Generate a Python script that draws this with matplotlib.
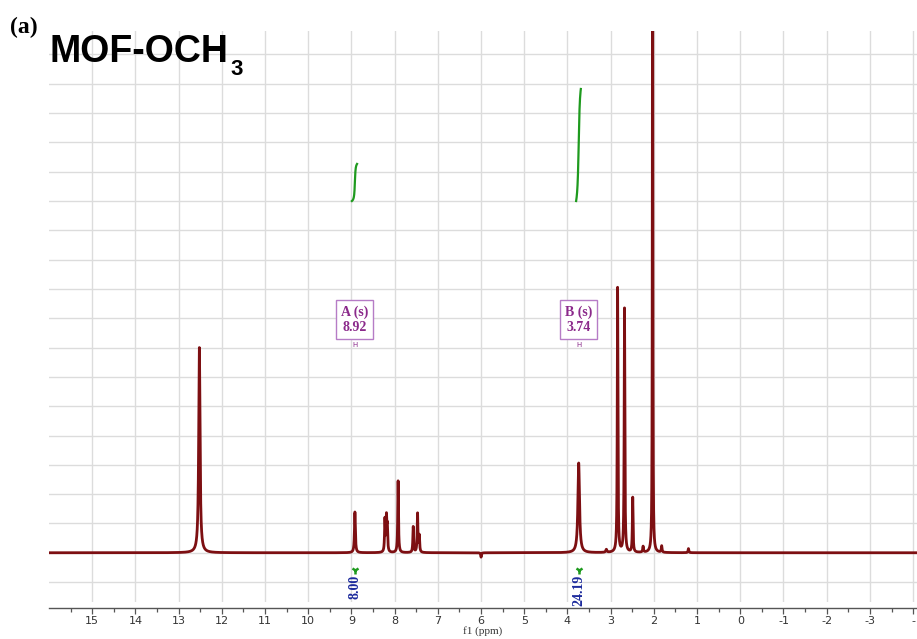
import numpy as np
import matplotlib
matplotlib.use("Agg")
import matplotlib.pyplot as plt

# Peak list (ppm, height, half width)
peak_ppm = [12.52, 8.92, 8.225, 8.19, 8.17, 7.92, 7.57, 7.47, 7.43,
            3.74, 3.10, 2.84, 2.68, 2.49, 2.25, 2.03, 1.82, 1.20, 6.00]
peak_height = [7.0, 1.39, 1.10, 1.12, 0.80, 2.45, 0.88, 1.32, 0.55,
               3.06, 0.10, 9.03, 8.32, 1.87, 0.20, 25.0, 0.22, 0.14, -0.15]
peak_width = [0.018, 0.012, 0.010, 0.010, 0.010, 0.010, 0.010, 0.010, 0.010,
              0.022, 0.015, 0.009, 0.009, 0.009, 0.010, 0.006, 0.010, 0.010, 0.010]

# Integrated multiplets
mult_label = ["A (s)", "B (s)"]
mult_ppm = [8.92, 3.74]
mult_range = [(8.99, 8.87), (3.80, 3.69)]
mult_integral = [8.00, 24.19]

xticks = list(range(-4, 16))

ppm = np.linspace(16.0, -4.1, 24000)
spec = np.zeros_like(ppm)
for x0, h, w in zip(peak_ppm, peak_height, peak_width):
    spec += h / (1 + ((ppm - x0) / w) ** 2)

fig = plt.figure(figsize=(9.17, 6.39), dpi=100)
ax = fig.add_axes([49 / 917, 1 - 602 / 639, 1 - 49 / 917, (602 - 31) / 639])

ax.plot(ppm, spec, color='#7d0f12', linewidth=2.0, zorder=3)

# integral traces, drawn above each multiplet
for (hi, lo), val in zip(mult_range, mult_integral):
    m = (ppm <= hi) & (ppm >= lo)
    cum = np.cumsum(spec[m])
    cum = (cum - cum[0]) / (cum[-1] - cum[0])
    ax.plot(ppm[m], 12.0 + cum * val * 0.158, color='#1e9a1e', linewidth=1.6, zorder=3)

for lab, x0, val in zip(mult_label, mult_ppm, mult_integral):
    ax.text(x0, 7.95, f"{lab}\n{x0:.2f}", ha='center', va='center', multialignment='center',
            fontsize=10, fontweight='bold', family='Liberation Serif', color='#8b2a8b',
            linespacing=1.25,
            bbox=dict(boxstyle='square,pad=0.35', fc='white', ec='#b67cc6', lw=1.0), zorder=4)
    ax.text(x0, 7.08, "H", ha='center', va='center', fontsize=5, color='#8b2a8b', zorder=4)
    ax.plot([x0], [-0.6], marker='1', color='#1e9a1e', markersize=6, mew=1.8, zorder=4)
    ax.text(x0, -0.74, f"{val:.2f}", rotation=90, ha='center', va='top', fontsize=10,
            fontweight='bold', family='Liberation Serif', color='#1c2a9c', zorder=4)

ax.set_xlim(16, -4.09)
ax.set_ylim(-1.68, 17.8)
ax.set_yticks(np.arange(-1, 18))
ax.set_xticks(xticks)
ax.set_xticklabels([str(t) if t > -4 else '-' for t in xticks])
ax.set_xticks(np.arange(-3.5, 16, 1.0), minor=True)
ax.grid(True, which='major', color='#dcdcdc', linewidth=1.0, zorder=0)
ax.tick_params(axis='y', left=False, labelleft=False)
ax.tick_params(axis='x', which='major', direction='out', length=4, width=0.9,
               colors='#555555', labelsize=8, labelcolor='#333333', pad=2)
ax.tick_params(axis='x', which='minor', direction='out', length=3, width=0.9, colors='#555555')
for lab in ax.get_xticklabels():
    lab.set_family('Liberation Serif')

for side in ['top', 'left', 'right']:
    ax.spines[side].set_visible(False)
ax.spines['bottom'].set_position(('outward', 4))
ax.spines['bottom'].set_color('#555555')
ax.spines['bottom'].set_linewidth(1.0)

ax.set_xlabel('f1 (ppm)', fontsize=8, family='Liberation Serif', color='#333333', labelpad=0)

fig.text(10 / 917, 1 - 33 / 639, "(a)", fontsize=17, fontweight='bold',
         family='Liberation Serif', ha='left', va='baseline')
fig.text(49 / 917, 1 - 62 / 639, "MOF-OCH", fontsize=27, fontweight='bold',
         family='Liberation Sans', ha='left', va='baseline')
fig.text(230 / 917, 1 - 75 / 639, "3", fontsize=16, fontweight='bold',
         family='Liberation Sans', ha='left', va='baseline')

fig.savefig('out.png', dpi=100)
